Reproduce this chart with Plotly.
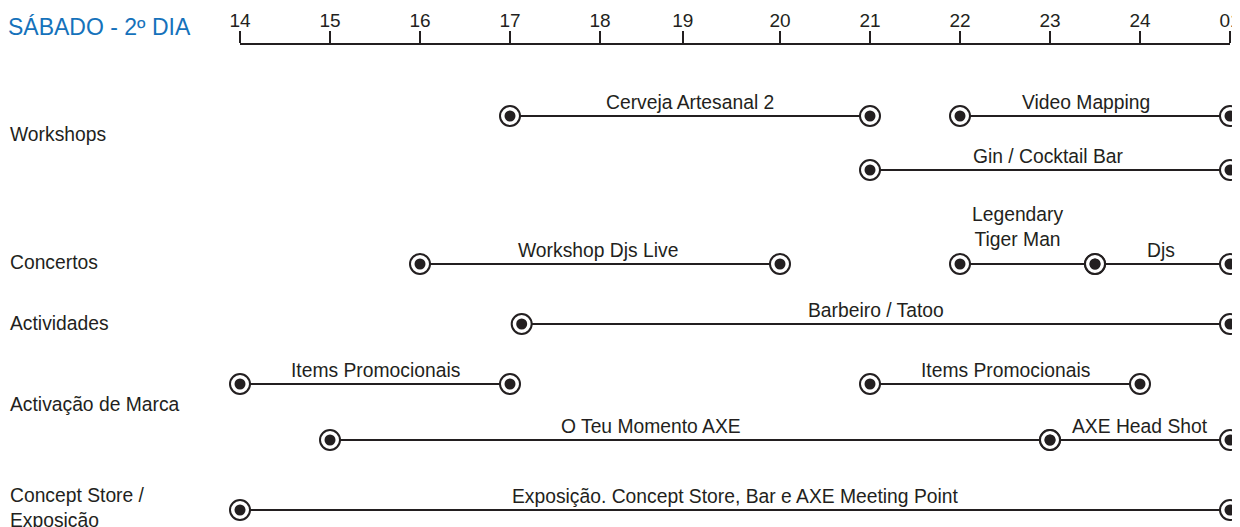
import plotly.graph_objects as go

# ---- data ----
hours_ticks = [14, 15, 16, 17, 18, 18.92, 20, 21, 22, 23, 24, 25]
hour_labels = ["14", "15", "16", "17", "18", "19", "20", "21", "22", "23", "24", "01"]

row_names = ["Workshops", "Concertos", "Actividades", "Activação de Marca", "Concept Store /<br>Exposição"]
row_label_y = [8.9, 21.7, 27.8, 35.9, 46.3]

event_names = ["Cerveja Artesanal 2", "Video Mapping", "Gin / Cocktail Bar",
               "Workshop Djs Live", "Legendary<br>Tiger Man", "Djs",
               "Barbeiro / Tatoo", "Items Promocionais", "Items Promocionais",
               "O Teu Momento AXE", "AXE Head Shot",
               "Exposição. Concept Store, Bar e AXE Meeting Point"]
event_start = [17, 22, 21, 16, 22, 23.5, 17.13, 14, 21, 15, 23, 14]
event_end = [21, 25, 25, 20, 23.5, 25, 25, 17, 24, 23, 25, 25]
event_lane = [7.1, 7.1, 12.5, 21.9, 21.9, 21.9, 27.9, 33.9, 33.9, 39.5, 39.5, 46.5]
label_x = [19, 23.4, 22.98, 17.98, 22.64, 24.23, 21.07, 15.5, 22.5, 18.57, 24, 19.5]

TEXT = "#231f20"
FONT = "Liberation Sans, Arial, sans-serif"

# page has an 8px body margin; figure is sized/offset to compensate
W, H = 1232, 519
L, T, R = 232, 37, 10
PW = W - L - R
PH = H - T

fig = go.Figure()

for s, e, y in zip(event_start, event_end, event_lane):
    fig.add_trace(go.Scatter(x=[s, e], y=[y, y], mode="lines",
                             line=dict(color=TEXT, width=2), hoverinfo="skip",
                             showlegend=False))

pts_x = event_start + event_end
pts_y = event_lane + event_lane
fig.add_trace(go.Scatter(x=pts_x, y=pts_y, mode="markers", cliponaxis=False,
                         marker=dict(size=20, color="white", line=dict(color=TEXT, width=2)),
                         showlegend=False, hoverinfo="skip"))
fig.add_trace(go.Scatter(x=pts_x, y=pts_y, mode="markers", cliponaxis=False,
                         marker=dict(size=11, color=TEXT, line=dict(width=0)),
                         showlegend=False, hoverinfo="skip"))

for name, lx, y in zip(event_names, label_x, event_lane):
    two = "<br>" in name
    fig.add_annotation(x=lx, y=y, xref="x", yref="y", text=name, showarrow=False,
                       xanchor="center", yanchor="middle", yshift=37 if two else 14,
                       font=dict(family=FONT, size=19.3, color=TEXT))

for name, y in zip(row_names, row_label_y):
    fig.add_annotation(x=(0 - L) / PW, y=y, xref="paper", yref="y", text=name,
                       showarrow=False, xanchor="left", yanchor="middle", align="left",
                       font=dict(family=FONT, size=19.3, color=TEXT))

fig.add_annotation(x=(-2 - L) / PW, y=1 + (T - 19) / PH, xref="paper", yref="paper",
                   text="SÁBADO - 2º DIA", showarrow=False, xanchor="left",
                   yanchor="middle", font=dict(family=FONT, size=23, color="#1572bb"))

fig.update_xaxes(range=[14, 25], side="top", tickmode="array", tickvals=hours_ticks,
                 ticktext=hour_labels, showline=True, linecolor=TEXT, linewidth=2,
                 ticks="outside", ticklen=12, tickwidth=1.5, tickcolor=TEXT,
                 ticklabelstandoff=-4,
                 showgrid=False, zeroline=False, automargin=False,
                 ticklabeloverflow="allow",
                 tickfont=dict(family=FONT, size=19, color=TEXT))
fig.update_yaxes(range=[PH / 10, 0], showgrid=False, zeroline=False, showticklabels=False,
                 showline=False, automargin=False)

fig.update_layout(width=W, height=H, margin=dict(l=L, r=R, t=T, b=0, autoexpand=False),
                  plot_bgcolor="white", paper_bgcolor="white")

fig.write_html("out.html")
